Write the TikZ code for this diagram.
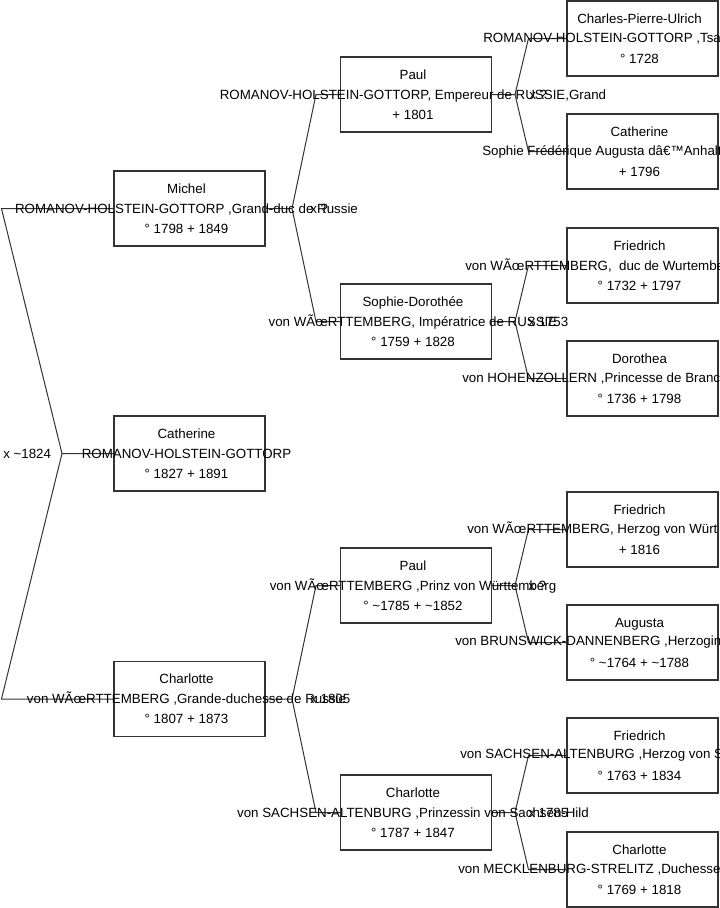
\documentclass[tikz,border=0pt]{standalone}
\usepackage{fontspec}
\setmainfont{Liberation Sans}
\usetikzlibrary{calc}
\definecolor{TreeLine}{HTML}{333333}

\begin{document}
\begin{tikzpicture}[x=0.75pt,y=-0.75pt,
    person/.style={draw=TreeLine, fill=white, line width=0.8pt, minimum width=113.25pt, minimum height=56.25pt, inner sep=0pt},
    link/.style={draw=TreeLine, line width=0.75pt},
    txt/.style={font=\fontsize{10}{15}\selectfont, align=center, inner sep=0pt, xshift=-2.25pt},
    side/.style={font=\fontsize{10}{15}\selectfont, anchor=west, inner sep=0pt},
    wed/.style={font=\fontsize{10}{15}\selectfont, anchor=west, inner sep=0pt}]
    \useasboundingbox (0,0) rectangle (719,908);

    % Boxes
    \node[person] (cat) at (189.5,453.5) {};
    \node[person] (michel) at (189.5,208.5) {};
    \node[person] (charl) at (189.5,699) {};
    \node[person] (paul) at (416,94.5) {};
    \node[person] (sophie) at (416,321.5) {};
    \node[person] (paulw) at (416,585.5) {};
    \node[person] (charls) at (416,812.5) {};
    \node[person] (cpu) at (642.5,38.5) {};
    \node[person] (cath) at (642.5,151.5) {};
    \node[person] (fried) at (642.5,265.5) {};
    \node[person] (doro) at (642.5,378.5) {};
    \node[person] (friedw) at (642.5,529.5) {};
    \node[person] (aug) at (642.5,642.5) {};
    \node[person] (frieds) at (642.5,755.5) {};
    \node[person] (charm) at (642.5,869.5) {};

    % Forks
    \coordinate (f0) at (62,453.5);
    \coordinate (f1) at (292,208.5);
    \coordinate (f2) at (292,699);
    \coordinate (f3) at (515,94.5);
    \coordinate (f4) at (515,321.5);
    \coordinate (f5) at (515,585.5);
    \coordinate (f6) at (515,812.5);

    \draw[link] (cat.west) -- (f0) -- ($(michel.west)+(-112,0)$) -- (michel.west);
    \draw[link] (f0) -- ($(charl.west)+(-112,0)$) -- (charl.west);

    \draw[link] (michel.east) -- (f1) -- ($(paul.west)+(-24,0)$) -- (paul.west);
    \draw[link] (f1) -- ($(sophie.west)+(-24,0)$) -- (sophie.west);
    \draw[link] (charl.east) -- (f2) -- ($(paulw.west)+(-24,0)$) -- (paulw.west);
    \draw[link] (f2) -- ($(charls.west)+(-24,0)$) -- (charls.west);

    \draw[link] (paul.east) -- (f3) -- ($(cpu.west)+(-38,0)$) -- (cpu.west);
    \draw[link] (f3) -- ($(cath.west)+(-38,0)$) -- (cath.west);
    \draw[link] (sophie.east) -- (f4) -- ($(fried.west)+(-38,0)$) -- (fried.west);
    \draw[link] (f4) -- ($(doro.west)+(-38,0)$) -- (doro.west);
    \draw[link] (paulw.east) -- (f5) -- ($(friedw.west)+(-38,0)$) -- (friedw.west);
    \draw[link] (f5) -- ($(aug.west)+(-38,0)$) -- (aug.west);
    \draw[link] (charls.east) -- (f6) -- ($(frieds.west)+(-38,0)$) -- (frieds.west);
    \draw[link] (f6) -- ($(charm.west)+(-38,0)$) -- (charm.west);

    % Marriages
    \node[wed] (w0) at (3,453.5) {x \textasciitilde1824};
    \node[wed] (w1) at (310,208.5) {x ?};
    \node[wed] (w2) at (310,699) {x 1805};
    \node[wed] (w3) at (529,94.5) {x ?};
    \node[wed] (w4) at (528,321.5) {x 1753};
    \node[wed] (w5) at (528,585.5) {x ?};
    \node[wed] (w6) at (528,812.5) {x 1785};

    % Texts
    \node[txt] (cat-t) at (cat.center) {Catherine\\ROMANOV-HOLSTEIN-GOTTORP\\° 1827 + 1891};
    \node[txt] (michel-t) at (michel.center) {Michel\\ROMANOV-HOLSTEIN-GOTTORP ,Grand-duc de Russie\\° 1798 + 1849};
    \node[txt] (charl-t) at (charl.center) {Charlotte\\von WÃœRTTEMBERG ,Grande-duchesse de Russie\\° 1807 + 1873};
    \node[txt] (paul-t) at (paul.center) {Paul\\ROMANOV-HOLSTEIN-GOTTORP, Empereur de RUSSIE,Grand\\+ 1801};
    \node[txt] (sophie-t) at (sophie.center) {Sophie-Dorothée\\von WÃœRTTEMBERG, Impératrice de RUSSIE\\° 1759 + 1828};
    \node[txt] (paulw-t) at (paulw.center) {Paul\\von WÃœRTTEMBERG ,Prinz von Württemberg\\° \textasciitilde1785 + \textasciitilde1852};
    \node[txt] (charls-t) at (charls.center) {Charlotte\\von SACHSEN-ALTENBURG ,Prinzessin von Sachsen-Hild\\° 1787 + 1847};

    \node[txt] (cpu-t) at (cpu.center) {Charles-Pierre-Ulrich\\[15pt]° 1728};
    \node[side] (cpu-s) at (483,38.5) {ROMANOV-HOLSTEIN-GOTTORP ,Tsa};
    \node[txt] (cath-t) at (cath.center) {Catherine\\[15pt]+ 1796};
    \node[side] (cath-s) at (482,151.5) {Sophie Frédérique Augusta dâ€™Anhalt};
    \node[txt] (fried-t) at (fried.center) {Friedrich\\[15pt]° 1732 + 1797};
    \node[side] (fried-s) at (465,265.5) {von WÃœRTTEMBERG,\ \ duc de Wurtembe};
    \node[txt] (doro-t) at (doro.center) {Dorothea\\[15pt]° 1736 + 1798};
    \node[side] (doro-s) at (462,378.5) {von HOHENZOLLERN ,Princesse de Branc};
    \node[txt] (friedw-t) at (friedw.center) {Friedrich\\[15pt]+ 1816};
    \node[side] (friedw-s) at (467,529.5) {von WÃœRTTEMBERG, Herzog von Würt};
    \node[txt] (aug-t) at (aug.center) {Augusta\\[15pt]° \textasciitilde1764 + \textasciitilde1788};
    \node[side] (aug-s) at (455,642.5) {von BRUNSWICK-DANNENBERG ,Herzogin};
    \node[txt] (frieds-t) at (frieds.center) {Friedrich\\[15pt]° 1763 + 1834};
    \node[side] (frieds-s) at (460,755.5) {von SACHSEN-ALTENBURG ,Herzog von S};
    \node[txt] (charm-t) at (charm.center) {Charlotte\\[15pt]° 1769 + 1818};
    \node[side] (charm-s) at (458,869.5) {von MECKLENBURG-STRELITZ ,Duchesse};
\end{tikzpicture}
\end{document}
